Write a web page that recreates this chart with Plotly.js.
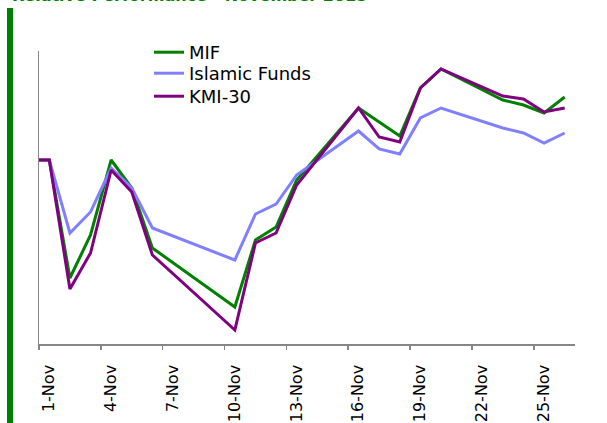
<!DOCTYPE html>
<html>
<head>
<meta charset="utf-8">
<script src="https://cdn.plot.ly/plotly-3.0.1.min.js"></script>
<style>html,body{margin:0;padding:0;background:#fff;}#chart{width:607px;height:423px;}</style>
</head>
<body>
<div id="chart"></div>
<script>
// Trading days (first value is the base before 1-Nov, same level)
const dates = ["2015-10-31","2015-11-01","2015-11-02","2015-11-03","2015-11-04","2015-11-05","2015-11-06",
  "2015-11-10","2015-11-11","2015-11-12","2015-11-13","2015-11-16","2015-11-17","2015-11-18",
  "2015-11-19","2015-11-20","2015-11-23","2015-11-24","2015-11-25","2015-11-26"];
// Relative performance index (base = 100)
const mif =     [100,100,94.10,96.25,100.00,98.60,95.60,92.65,96.00,96.65,99.00,102.60,101.90,101.20,103.60,104.55,103.00,102.75,102.35,103.15];
const islamic = [100,100,96.35,97.40,99.60,98.60,96.60,95.00,97.30,97.80,99.25,101.45,100.55,100.30,102.10,102.60,101.60,101.35,100.85,101.35];
const kmi30 =   [100,100,93.55,95.35,99.50,98.40,95.25,91.50,95.85,96.35,98.75,102.60,101.15,100.90,103.60,104.55,103.20,103.05,102.40,102.60];
const seriesNames = ["MIF","Islamic Funds","KMI-30"];
const titleText = "Relative Performance - November 2015";

const xs = dates.map(d => d + " 12:00");
const colors = ["#008000","#8080ff","#800080"];
const legendIds = ["legend","legend2","legend3"];
const data = [mif, islamic, kmi30].map((v,i) => ({
  x: xs, y: v, type: "scatter", mode: "lines", name: seriesNames[i],
  legend: legendIds[i],
  line: {color: colors[i], width: 3}
}));

function leg(yTopPx) {
  return {x: (149-39)/536, y: (344-yTopPx)/293, xanchor: "left", yanchor: "top",
    bgcolor: "rgba(0,0,0,0)", font: {size: 18, color: "#000"}};
}

const layout = {
  width: 607, height: 423,
  margin: {l: 39, r: 32, t: 51, b: 79, pad: 0},
  paper_bgcolor: "#ffffff", plot_bgcolor: "#ffffff",
  font: {family: "DejaVu Sans, Verdana, sans-serif", color: "#000"},
  showlegend: true,
  legend: leg(34), legend2: leg(55), legend3: leg(78),
  xaxis: {
    type: "date", range: ["2015-11-01", "2015-11-27"],
    tick0: "2015-11-01", dtick: 3*86400000, tickformat: "%-d-%b",
    tickangle: -90, ticks: "outside", ticklen: 4, tickwidth: 1.5, tickcolor: "#868686",
    ticklabelshift: 10, ticklabelstandoff: 9,
    showline: true, linecolor: "#868686", linewidth: 1.5,
    showgrid: false, zeroline: false, tickfont: {size: 16, color: "#000"}
  },
  yaxis: {
    range: [90.8, 105.45], showticklabels: false, ticks: "",
    showline: true, linecolor: "#868686", linewidth: 1.5,
    showgrid: false, zeroline: false
  },
  shapes: [{type: "rect", xref: "paper", yref: "paper",
    x0: (7-39)/536, x1: (13-39)/536, y0: (344-423)/293, y1: (344-8)/293,
    fillcolor: "#008000", line: {width: 0}, layer: "above"}],
  annotations: [{text: "<b>" + titleText + "</b>", xref: "paper", yref: "paper",
    x: (10-39)/536, y: 1, xanchor: "left", yanchor: "bottom", yshift: 44, showarrow: false,
    font: {size: 16, color: "#008000"}}]
};
Plotly.newPlot("chart", data, layout, {displayModeBar: false, staticPlot: true});
</script>
</body>
</html>
